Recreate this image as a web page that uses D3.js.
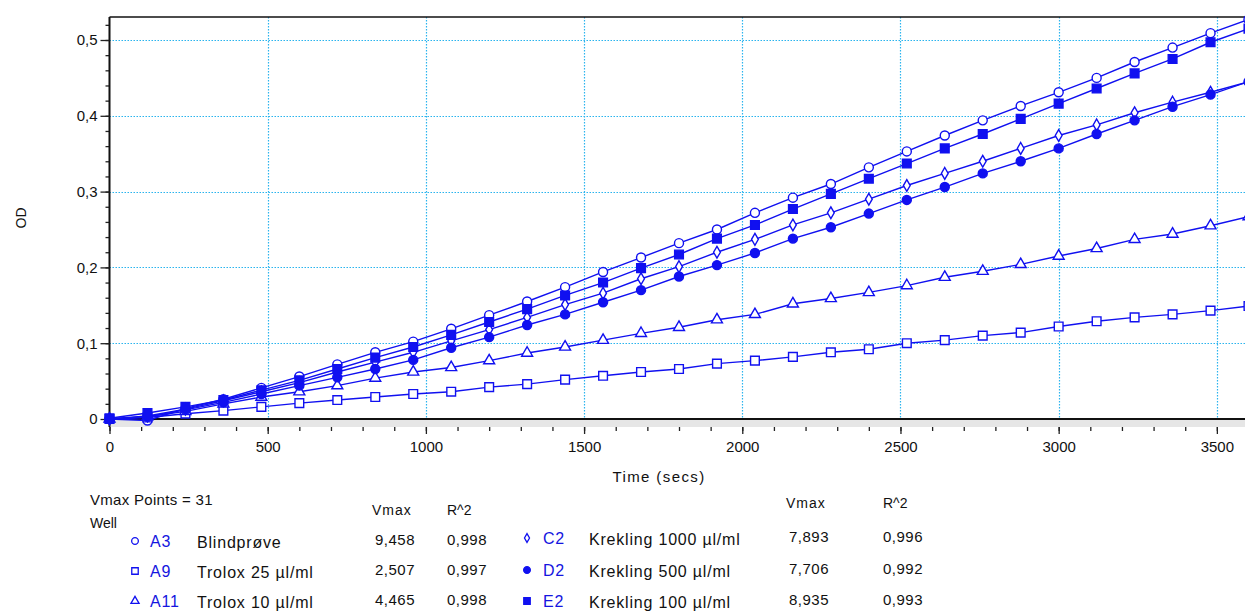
<!DOCTYPE html>
<html>
<head>
<meta charset="utf-8">
<script src="https://cdn.jsdelivr.net/npm/d3@7"></script>
<style>
body { margin: 0; background: #fff; }
svg { display: block; font-family: 'Liberation Sans', Arial, sans-serif; }
</style>
</head>
<body>
<script>
// time points (secs)
var times = [0, 120, 240, 360, 480, 600, 720, 840, 960, 1080, 1200, 1320, 1440, 1560, 1680, 1800,
  1920, 2040, 2160, 2280, 2400, 2520, 2640, 2760, 2880, 3000, 3120, 3240, 3360, 3480, 3600];

// OD per well
var odA3 = [0, -0.002, 0.014, 0.026, 0.041, 0.056, 0.072, 0.088, 0.102, 0.119, 0.137, 0.155, 0.174, 0.194, 0.213, 0.232,
  0.250, 0.272, 0.292, 0.310, 0.332, 0.353, 0.374, 0.394, 0.413, 0.431, 0.450, 0.471, 0.490, 0.509, 0.527];
var odA9 = [0, 0.002, 0.007, 0.011, 0.016, 0.021, 0.025, 0.029, 0.033, 0.036, 0.042, 0.046, 0.052, 0.057, 0.062, 0.066,
  0.073, 0.077, 0.082, 0.088, 0.092, 0.100, 0.104, 0.110, 0.114, 0.122, 0.129, 0.134, 0.138, 0.143, 0.149];
var odA11 = [0, 0.003, 0.010, 0.020, 0.029, 0.036, 0.044, 0.054, 0.062, 0.068, 0.077, 0.087, 0.095, 0.104, 0.113, 0.121,
  0.131, 0.138, 0.152, 0.159, 0.167, 0.176, 0.187, 0.195, 0.204, 0.215, 0.225, 0.237, 0.244, 0.255, 0.267];
var odC2 = [0, 0.004, 0.013, 0.024, 0.036, 0.048, 0.062, 0.075, 0.088, 0.103, 0.118, 0.134, 0.151, 0.166, 0.185, 0.201,
  0.220, 0.237, 0.256, 0.272, 0.290, 0.308, 0.324, 0.340, 0.357, 0.374, 0.388, 0.404, 0.418, 0.431, 0.445];
var odD2 = [0, 0.003, 0.012, 0.022, 0.033, 0.044, 0.055, 0.066, 0.078, 0.094, 0.108, 0.124, 0.138, 0.154, 0.170, 0.188,
  0.203, 0.219, 0.238, 0.253, 0.271, 0.289, 0.306, 0.324, 0.340, 0.357, 0.376, 0.394, 0.412, 0.428, 0.445];
var odE2 = [0.001, 0.008, 0.016, 0.025, 0.038, 0.051, 0.066, 0.081, 0.095, 0.111, 0.128, 0.145, 0.163, 0.180, 0.199, 0.217,
  0.238, 0.256, 0.277, 0.297, 0.317, 0.337, 0.357, 0.376, 0.396, 0.416, 0.436, 0.456, 0.475, 0.497, 0.515];

var wells = ['A3', 'A9', 'A11', 'C2', 'D2', 'E2'];
var names = ['Blindprøve', 'Trolox 25 µl/ml', 'Trolox 10 µl/ml', 'Krekling 1000 µl/ml', 'Krekling 500 µl/ml', 'Krekling 100 µl/ml'];
var vmax = ['9,458', '2,507', '4,465', '7,893', '7,706', '8,935'];
var rsq = ['0,998', '0,997', '0,998', '0,996', '0,992', '0,993'];
var seriesData = [odA3, odA9, odA11, odC2, odD2, odE2];

var yTicks = [0, 0.1, 0.2, 0.3, 0.4, 0.5];
var xTicks = [0, 500, 1000, 1500, 2000, 2500, 3000, 3500];

var blue = '#1010f0';
var markers = [
  { type: d3.symbolCircle, size: 64, fill: '#fff' },
  { type: d3.symbolSquare, size: 76, fill: '#fff' },
  { type: d3.symbolTriangle, size: 52, fill: '#fff' },
  { type: d3.symbolDiamond, size: 40, fill: '#fff' },
  { type: d3.symbolCircle, size: 64, fill: blue },
  { type: d3.symbolSquare, size: 76, fill: blue }
];

var width = 1245, height = 614;
var plot = { left: 109.5, top: 17, bottom: 427 };

var x = d3.scaleLinear().domain([0, 3600]).range([plot.left, 1248.5]);
var y = d3.scaleLinear().domain([-8 / 758, 402 / 758]).range([plot.bottom, plot.top]);

var svg = d3.select('body').append('svg')
  .attr('width', width)
  .attr('height', height);

// gray strip below zero
svg.append('rect')
  .attr('x', plot.left)
  .attr('y', y(0))
  .attr('width', width - plot.left)
  .attr('height', plot.bottom - y(0))
  .attr('fill', '#e6e6e6');

// grid
svg.append('g').selectAll('line')
  .data(xTicks.slice(1))
  .enter().append('line')
  .attr('x1', function(d) { return Math.round(x(d)) + 0.5; })
  .attr('x2', function(d) { return Math.round(x(d)) + 0.5; })
  .attr('y1', plot.top)
  .attr('y2', y(0))
  .attr('stroke', '#2ab4ee')
  .attr('stroke-width', 1.2)
  .attr('stroke-dasharray', '1.5,1.5');

svg.append('g').selectAll('line')
  .data(yTicks.slice(1))
  .enter().append('line')
  .attr('x1', plot.left)
  .attr('x2', width)
  .attr('y1', function(d) { return Math.round(y(d)) + 0.5; })
  .attr('y2', function(d) { return Math.round(y(d)) + 0.5; })
  .attr('stroke', '#2ab4ee')
  .attr('stroke-width', 1.2)
  .attr('stroke-dasharray', '1.5,1.5');

// frame + zero line
svg.append('line')
  .attr('x1', plot.left).attr('x2', width)
  .attr('y1', plot.top).attr('y2', plot.top)
  .attr('stroke', '#111').attr('stroke-width', 1.6);
svg.append('line')
  .attr('x1', plot.left).attr('x2', width)
  .attr('y1', y(0)).attr('y2', y(0))
  .attr('stroke', '#111').attr('stroke-width', 1.8);

// y axis
var yMinor = svg.append('g')
  .attr('transform', 'translate(' + plot.left + ',0)')
  .call(d3.axisLeft(y).tickValues(d3.range(0, 0.53, 0.02)).tickSize(4).tickFormat(''));
var yAxis = svg.append('g')
  .attr('transform', 'translate(' + plot.left + ',0)')
  .call(d3.axisLeft(y).tickValues(yTicks).tickSize(9).tickPadding(3)
    .tickFormat(function(d) { return d3.format('.1~f')(d).replace('.', ','); }));
[yMinor, yAxis].forEach(function(g) {
  g.select('.domain').attr('stroke', '#111').attr('stroke-width', 1.6).attr('d', 'M0,' + plot.top + 'V' + plot.bottom);
  g.selectAll('.tick line').attr('stroke', '#222').attr('stroke-width', 1.3);
});
yAxis.selectAll('text').style('font-size', '15px').attr('fill', '#111');

// x axis
var xMinor = svg.append('g')
  .attr('transform', 'translate(0,' + plot.bottom + ')')
  .call(d3.axisBottom(x).tickValues(d3.range(0, 3601, 100)).tickSize(4).tickFormat(''));
var xAxis = svg.append('g')
  .attr('transform', 'translate(0,' + plot.bottom + ')')
  .call(d3.axisBottom(x).tickValues(xTicks).tickSize(7).tickPadding(7).tickFormat(d3.format('d')));
[xMinor, xAxis].forEach(function(g) {
  g.select('.domain').remove();
  g.selectAll('.tick line').attr('stroke', '#222').attr('stroke-width', 1.3);
});
xAxis.selectAll('text').style('font-size', '15px').attr('fill', '#111');

svg.append('text')
  .attr('x', 659)
  .attr('y', 482)
  .attr('text-anchor', 'middle')
  .style('font-size', '15px')
  .style('letter-spacing', '1.4px')
  .attr('fill', '#111')
  .text('Time (secs)');

svg.append('text')
  .attr('transform', 'translate(26,218) rotate(-90)')
  .attr('text-anchor', 'middle')
  .style('font-size', '14px')
  .attr('fill', '#111')
  .text('OD');

// curves
var line = d3.line()
  .x(function(d, i) { return x(times[i]); })
  .y(function(d) { return y(d); });

svg.append('g').selectAll('path')
  .data(seriesData)
  .enter().append('path')
  .attr('d', line)
  .attr('fill', 'none')
  .attr('stroke', blue)
  .attr('stroke-width', 1.4);

seriesData.forEach(function(vals, s) {
  var m = markers[s];
  svg.append('g').selectAll('path')
    .data(vals)
    .enter().append('path')
    .attr('transform', function(d, i) { return 'translate(' + x(times[i]) + ',' + y(d) + ')'; })
    .attr('d', d3.symbol().type(m.type).size(m.size))
    .attr('fill', m.fill)
    .attr('stroke', blue)
    .attr('stroke-width', 1.4);
});

// legend / table
var legend = svg.append('g').style('fill', '#111');
legend.append('text').attr('x', 90).attr('y', 505).style('font-size', '15px').style('letter-spacing', '0.3px').text('Vmax Points = 31');
legend.append('text').attr('x', 90).attr('y', 528).style('font-size', '14px').text('Well');

var cols = [
  { mark: 135, well: 150, name: 197, vmax: 375, rsq: 447, head: 515, rows: [547, 577, 607] },
  { mark: 527, well: 543, name: 589, vmax: 789, rsq: 883, head: 508, rows: [544, 576, 607] }
];
cols.forEach(function(c) {
  legend.append('text').attr('x', c.vmax - 3).attr('y', c.head).style('font-size', '14px').style('letter-spacing', '1px').text('Vmax');
  legend.append('text').attr('x', c.rsq).attr('y', c.head).style('font-size', '14px').text('R^2');
});

wells.forEach(function(w, i) {
  var c = cols[Math.floor(i / 3)];
  var yy = c.rows[i % 3];
  var m = markers[i];
  legend.append('path')
    .attr('transform', 'translate(' + c.mark + ',' + (yy - 6) + ')')
    .attr('d', d3.symbol().type(m.type).size(m.size * 0.55))
    .attr('fill', m.fill)
    .attr('stroke', blue)
    .attr('stroke-width', 1.3);
  legend.append('text').attr('x', c.well).attr('y', yy)
    .style('font-size', '16px').style('letter-spacing', '0.8px').style('fill', '#1515e0').text(w);
  legend.append('text').attr('x', c.name).attr('y', yy + 1)
    .style('font-size', '16px').style('letter-spacing', '0.8px').text(names[i]);
  legend.append('text').attr('x', c.vmax).attr('y', yy - 2)
    .style('font-size', '15px').style('letter-spacing', '0.5px').text(vmax[i]);
  legend.append('text').attr('x', c.rsq).attr('y', yy - 2)
    .style('font-size', '15px').style('letter-spacing', '0.5px').text(rsq[i]);
});
</script>
</body>
</html>
